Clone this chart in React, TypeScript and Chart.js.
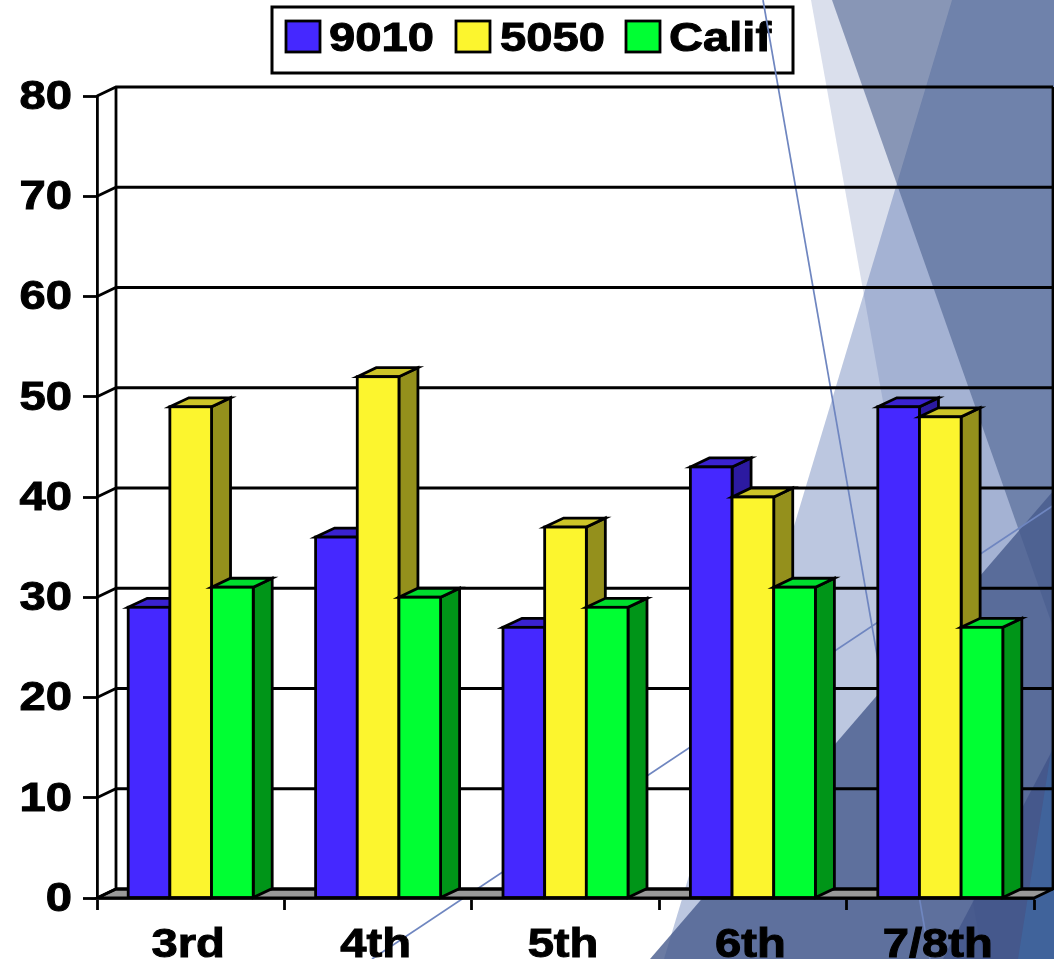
import { useEffect, useRef } from "react";
import { Chart, BarController, BarElement, CategoryScale, LinearScale } from "chart.js";

// Grade bands and the three series shown for each of them
const grades = ["3rd", "4th", "5th", "6th", "7/8th"];
const series9010 = [29, 36, 27, 43, 49];
const series5050 = [49, 52, 37, 40, 48];
const seriesCalif = [31, 30, 29, 31, 27];
const seriesNames = ["9010", "5050", "Calif"];
const yTicks = [0, 10, 20, 30, 40, 50, 60, 70, 80];

const frontColors = ["#4528ff", "#fcf52e", "#00ff33"];
const topColors = ["#3a22d0", "#cdc528", "#00dd2e"];
const sideColors = ["#2c1aa0", "#94901c", "#009518"];

const DEPTH_X = 19;
const DEPTH_Y = 9;
const TEXT_STRETCH = 1.15;
const TEXT_SIZE = 41;
const LINE = 2.8;
const FONT = '"Liberation Sans", Arial, sans-serif';

// Slide artwork behind the chart: filled polygons and thin rules
const backdropShapes: { fill: string; pts: number[][] }[] = [
  { fill: "#bcc7e0", pts: [[952, 0], [1054, 0], [1054, 959], [664, 959]] },
  { fill: "rgba(70,95,160,0.2)", pts: [[811, 0], [1054, 0], [1054, 959], [983, 959]] },
  { fill: "rgba(66,88,136,0.54)", pts: [[832, 0], [1054, 0], [1054, 630]] },
  { fill: "rgba(70,90,140,0.8)", pts: [[650, 959], [1054, 490], [1054, 959]] },
  { fill: "rgba(40,60,120,0.4)", pts: [[943, 959], [1054, 747], [1054, 959]] },
  { fill: "rgba(60,110,170,0.5)", pts: [[1018, 959], [1054, 733], [1054, 959]] },
];
const backdropRules = [
  [[763, 0], [930, 959]],
  [[372, 959], [1054, 505]],
];

// Axis label text is widened horizontally, so the scales draw it through a stretched context
function stretchItems(items: any[]) {
  return items.map((it) => ({
    ...it,
    options: { ...it.options, translation: [it.options.translation[0] / TEXT_STRETCH, it.options.translation[1]] },
  }));
}

class WideCategoryScale extends (CategoryScale as any) {
  static id = "wideCategory";
  getLabelItems(area: any) {
    return stretchItems(super.getLabelItems(area));
  }
  drawLabels(area: any) {
    const ctx = (this as any).ctx;
    ctx.save();
    ctx.translate(-2.5, 0);
    ctx.scale(TEXT_STRETCH, 1);
    super.drawLabels(area);
    ctx.restore();
  }
}

class WideLinearScale extends (LinearScale as any) {
  static id = "wideLinear";
  getLabelItems(area: any) {
    return stretchItems(super.getLabelItems(area));
  }
  drawLabels(area: any) {
    const ctx = (this as any).ctx;
    ctx.save();
    ctx.translate(0, 1.5);
    ctx.scale(TEXT_STRETCH, 1);
    super.drawLabels(area);
    ctx.restore();
  }
}

Chart.register(BarController, BarElement, CategoryScale, LinearScale, WideCategoryScale as any, WideLinearScale as any);

function polygon(ctx: CanvasRenderingContext2D, pts: number[][], fill: string, stroke?: string, lineWidth = LINE) {
  ctx.beginPath();
  pts.forEach((p, i) => (i ? ctx.lineTo(p[0], p[1]) : ctx.moveTo(p[0], p[1])));
  ctx.closePath();
  ctx.fillStyle = fill;
  ctx.fill();
  if (stroke) {
    ctx.strokeStyle = stroke;
    ctx.lineWidth = lineWidth;
    ctx.lineJoin = "miter";
    ctx.stroke();
  }
}

function drawLegend(ctx: CanvasRenderingContext2D) {
  ctx.fillStyle = "#ffffff";
  ctx.fillRect(272, 7, 521, 66);
  ctx.strokeStyle = "#000000";
  ctx.lineWidth = 3;
  ctx.strokeRect(272, 7, 521, 66);
  const swatchX = [286, 456, 626];
  const textX = [329, 500, 669];
  seriesNames.forEach((name, i) => {
    ctx.fillStyle = frontColors[i];
    ctx.fillRect(swatchX[i], 21, 34, 31);
    ctx.strokeStyle = "#000000";
    ctx.lineWidth = 2.8;
    ctx.strokeRect(swatchX[i], 21, 34, 31);
    ctx.save();
    ctx.translate(textX[i], 51);
    ctx.scale(TEXT_STRETCH, 1);
    ctx.font = `bold ${TEXT_SIZE}px ${FONT}`;
    ctx.fillStyle = "#000000";
    ctx.strokeStyle = "#000000";
    ctx.lineWidth = 1;
    ctx.textBaseline = "alphabetic";
    ctx.textAlign = "left";
    ctx.fillText(name, 0, 0);
    ctx.strokeText(name, 0, 0);
    ctx.restore();
  });
}

// Backdrop, legend, floor and back wall sit under the axes; bars are stacked front to back above them
const stagePlugin = {
  id: "stage",
  beforeDraw(chart: any) {
    const { ctx, scales } = chart;
    const { x, y } = scales;
    ctx.save();
    backdropShapes.forEach((s) => polygon(ctx, s.pts, s.fill));
    drawLegend(ctx);
    ctx.strokeStyle = "#6f86c0";
    ctx.lineWidth = 1.7;
    backdropRules.forEach((r) => {
      ctx.beginPath();
      ctx.moveTo(r[0][0], r[0][1]);
      ctx.lineTo(r[1][0], r[1][1]);
      ctx.stroke();
    });

    const left = x.left;
    const right = x.right;
    const base = y.getPixelForValue(0);
    const top = y.getPixelForValue(80);
    polygon(
      ctx,
      [[left, base], [left + DEPTH_X, base - DEPTH_Y], [right + DEPTH_X, base - DEPTH_Y], [right, base]],
      "#999999",
      "#000000",
    );
    ctx.strokeStyle = "#000000";
    ctx.lineWidth = LINE;
    yTicks.forEach((v) => {
      const py = y.getPixelForValue(v);
      ctx.beginPath();
      ctx.moveTo(left, py);
      ctx.lineTo(left + DEPTH_X, py - DEPTH_Y);
      ctx.lineTo(right + DEPTH_X, py - DEPTH_Y);
      ctx.stroke();
    });
    ctx.beginPath();
    ctx.moveTo(left + DEPTH_X, base - DEPTH_Y);
    ctx.lineTo(left + DEPTH_X, top - DEPTH_Y);
    ctx.moveTo(right + DEPTH_X, base - DEPTH_Y);
    ctx.lineTo(right + DEPTH_X, top - DEPTH_Y);
    ctx.stroke();
    ctx.restore();
  },
  // Left-hand series paint first so each later series overlaps the side face of the previous one
  beforeDatasetsDraw(chart: any) {
    const { ctx } = chart;
    ctx.save();
    seriesNames.forEach((_, i) => {
      const meta = chart.getDatasetMeta(i);
      meta.data.forEach((bar: any) => {
        const { x, y, base, width } = bar.getProps(["x", "y", "base", "width"], true);
        const l = x - width / 2;
        const r = x + width / 2;
        polygon(ctx, [[r, y], [r + DEPTH_X, y - DEPTH_Y], [r + DEPTH_X, base - DEPTH_Y], [r, base]], sideColors[i], "#000000");
        polygon(ctx, [[l, y], [l + DEPTH_X, y - DEPTH_Y], [r + DEPTH_X, y - DEPTH_Y], [r, y]], topColors[i], "#000000");
      });
      meta.controller.draw();
      meta.data.forEach((bar: any) => {
        const { x, y, base, width } = bar.getProps(["x", "y", "base", "width"], true);
        ctx.strokeStyle = "#000000";
        ctx.lineWidth = LINE;
        ctx.strokeRect(x - width / 2, y, width, base - y);
      });
    });
    ctx.restore();
  },
  beforeDatasetDraw() {
    return false;
  },
};

export default function App() {
  const ref = useRef<HTMLCanvasElement>(null);
  useEffect(() => {
    const values = [series9010, series5050, seriesCalif];
    const chart = new Chart(ref.current as HTMLCanvasElement, {
      type: "bar",
      data: {
        labels: grades,
        datasets: values.map((data, i) => ({
          label: seriesNames[i],
          data,
          backgroundColor: frontColors[i],
          borderWidth: 0,
          categoryPercentage: 0.667,
          barPercentage: 1,
        })),
      },
      options: {
        animation: false,
        responsive: false,
        devicePixelRatio: 1,
        layout: { padding: { top: 96, right: 20, left: 0, bottom: 0 } },
        plugins: { legend: { display: false }, tooltip: { enabled: false } },
        scales: {
          x: {
            type: "wideCategory",
            afterFit: (s: any) => {
              s.height = 61;
            },
            grid: { drawOnChartArea: false, drawTicks: true, tickLength: 12, tickColor: "#000000", tickWidth: LINE },
            border: { display: true, color: "#000000", width: LINE },
            ticks: {
              color: "#000000",
              textStrokeColor: "#000000",
              textStrokeWidth: 1,
              font: { family: FONT, weight: "bold", size: TEXT_SIZE },
              padding: 11,
              maxRotation: 0,
              autoSkip: false,
            },
          },
          y: {
            type: "wideLinear",
            min: 0,
            max: 80,
            afterFit: (s: any) => {
              s.width = 97;
            },
            grid: { drawOnChartArea: false, drawTicks: true, tickLength: 14, tickColor: "#000000", tickWidth: LINE },
            border: { display: true, color: "#000000", width: LINE },
            ticks: {
              color: "#000000",
              textStrokeColor: "#000000",
              textStrokeWidth: 1,
              stepSize: 10,
              font: { family: FONT, weight: "bold", size: TEXT_SIZE },
              padding: 11,
            },
          },
        } as any,
      },
      plugins: [stagePlugin],
    } as any);
    return () => chart.destroy();
  }, []);
  return (
    <div style={{ position: "fixed", left: 0, top: 0, width: 1054, height: 959, background: "#ffffff" }}>
      <canvas ref={ref} width={1054} height={959} style={{ display: "block" }} />
    </div>
  );
}
